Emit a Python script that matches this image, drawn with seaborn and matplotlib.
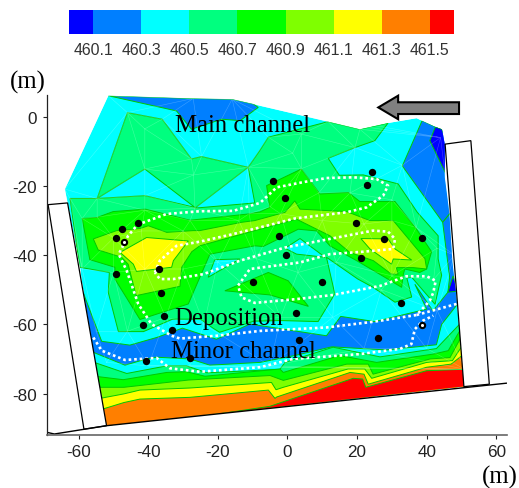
import numpy as np
import seaborn as sns
import matplotlib.pyplot as plt
from matplotlib.colors import ListedColormap, BoundaryNorm
from matplotlib.patches import Polygon
from matplotlib.tri import Triangulation

# elevation classes
levels = [460.0, 460.1, 460.3, 460.5, 460.7, 460.9, 461.1, 461.3, 461.5, 461.6]
level_labels = ['460.1', '460.3', '460.5', '460.7', '460.9', '461.1', '461.3', '461.5']
colors = ['#0000ff', '#007fff', '#00ffff', '#00ff7f', '#00ff00', '#7fff00', '#ffff00', '#ff7f00', '#ff0000']
blue, azure, cyan, spring, green, chart, yellow, orange, red = colors

domain = [(-51.5,6.1),(-27.1,5.3),(-15.9,5.1),(-9.8,3.7),(-7.9,3.2),(11.7,-1.4),(20.8,-3.6),(28.9,-1.8),
          (37.1,-0.4),(39,-1.3),(42.5,-2.9),(44.4,-3.6),(45.2,-7.9),(45.2,-17.5),(46.5,-27.6),(47.4,-42),
          (48.6,-52.7),(51,-77.9),(-52,-89.3),(-55.3,-71),(-59.2,-46.9),(-59.6,-43.5),(-64,-20.9)]

# below 460.3
azure_top = [(-51.5,6.1),(-27.1,5.3),(-15.9,5.1),(-9.8,3.7),(-8.4,2.7),(-13.6,-1.1),(-18.9,-0.7),(-27.6,-3.6),(-31.9,1.7)]
azure_right = [(38.7,-1.1),(42.5,-2.9),(44.4,-3.6),(46,-7.9),(46,-17.5),(47,-27.6),(44.6,-30.5),(33,-14.2)]
azure_strip = [(44.6,-30.5),(47,-27.6),(48.5,-46),(46.1,-50.7),(46.6,-46.4)]
azure_channel = [(-60,-47.4),(-53.4,-64.9),(-45.3,-66),(-37.6,-63.8),(-30.2,-61.1),(-20.4,-64.3),(-10.8,-59.9),
                 (11.2,-63.3),(15.3,-57.7),(25.1,-59.2),(40,-55.6),(36.6,-48.4),(41.8,-56.1),(46.1,-50.7),
                 (49,-46),(50,-52.7),(44.3,-60),(42.8,-65.9),(28.5,-67.4),(12.7,-66.5),(2.6,-68.9),(-7.9,-71),
                 (-22.3,-71.8),(-28,-70),(-37.6,-69.5),(-40.5,-70),(-46.7,-71.8),(-57,-67.6)]
blue_right = [(42.5,-2.9),(44.4,-3.6),(46,-7.9),(46,-17.5),(40.9,-6.9)]
blue_spot = [(47.6,-46),(49,-50.4),(46.1,-50.7)]

# 460.5 line
spring_main = [(-46,1.2),(-36,-0.7),(-27.6,-12.2),(-24.7,-11.5),(-11.3,-14.6),(-8,-9.8),(-5.5,-5.9),(11.7,-1.4),
               (20.8,-3.6),(28.9,-1.8),(25.1,-6.9),(19.4,-8.9),(11.7,-12),(14.9,-16.9),(21.8,-16.8),(31.8,-19.4),
               (37.3,-27.6),(43.3,-34.4),(43.3,-41.1),(44.3,-45.8),(42.4,-54.2),(35.7,-46.4),(34.3,-46.6),
               (35.7,-52.1),(30.9,-53.6),(24.6,-49.3),(20.2,-46.9),(11.2,-40.6),(13.6,-51.2),(8.8,-59.2),
               (-2.2,-58.9),(-9.7,-59.1),(-19.5,-62.3),(-21.4,-61.1),(-25,-58.5),(-33,-58.5),(-41.4,-62.1),
               (-48.6,-62.1),(-51.5,-50.8),(-51.2,-45),(-59.7,-43.5),(-62.5,-23.6),(-54.7,-23.6)]
cyan_holes = [[(-54.7,-23.6),(-41,-15.1),(-26.6,-26.2),(-41,-22.8)],
              [(-26.6,-26.4),(-11.3,-14.6),(-9.4,-24.9)],
              [(-22.8,-46.4),(-20.9,-41.3),(-13.7,-41.1)],
              [(-0.7,-38),(3.6,-35.2),(10.8,-40.6),(2.6,-39.7)]]

# 460.7 line
green_main = [(-59,-29.4),(-54.7,-29.1),(-50.1,-27.4),(-40.8,-26.7),(-28,-29.9),(-11.3,-28.1),(-7.9,-27.5),(-5.1,-26.2),
              (-6,-19.9),(4,-15.1),(9.3,-22.3),(17.5,-21.9),(20.8,-24.5),(30.9,-24.5),(37.1,-32.5),(41.4,-39),
              (40,-44),(38,-45),(33.7,-44),(33.3,-45.5),(32.8,-49.3),(28,-46.4),(19.9,-41.6),(12.2,-37.3),
              (8.4,-33),(3.1,-32.5),(-7,-37.5),(-9.4,-37.3),(-22.3,-39.7),(-28.5,-54.1),(-42.4,-58.6),
              (-49.6,-46.9),(-49.6,-43.5),(-56.8,-41.3)]
green_lobe = [(-18,-50.3),(-5.5,-45),(0.2,-47.4),(6,-54.8),(-5,-51.5)]

# 460.9 line
chart_main = [(-55.8,-35.3),(-49.1,-32.9),(-42.4,-32.3),(-40,-31.5),(-34.7,-33.4),(-27.1,-32.9),(-25.2,-32.9),(-13.2,-30.5),
              (-9.4,-30),(-0.7,-27.6),(2.1,-24.3),(3.6,-26.7),(17,-27.4),(23.7,-30),(30.4,-30),(39.5,-41),(40,-44),
              (36.1,-43.6),(31.3,-43.6),(31.8,-45.5),(29.9,-45.5),(24.7,-41.6),(17.9,-39.2),(12.2,-34.4),(2.6,-29.6),
              (-9.4,-32.9),(-25.2,-37.3),(-27.5,-39),(-30.4,-43.5),(-30.9,-49),(-43.5,-51.7),(-45.8,-42.6),
              (-47.7,-40.6),(-54.4,-38.5)]

# 461.1 line
yellow_left = [(-48.1,-39.2),(-40.5,-34.9),(-28.5,-35.9),(-32.8,-41.6),(-33.3,-43.5),(-43.4,-44.7),(-44.3,-42.6)]
yellow_right = [(21.1,-35.2),(28.9,-35.3),(30.9,-38.2),(35.7,-41.4),(30.4,-41.1),(29.9,-42.6),(27.5,-40.9),(23.7,-38.2)]

# lines across the lower reach, closed along the bottom edge
bottom_close = [(53,-80),(-54,-91)]
spring_low = [(-57,-70.5),(-46.2,-74.2),(-34.7,-72),(-29,-72),(-23.2,-74),(-2.2,-73),(-0.7,-71),(13.1,-66.6),
              (26.6,-69.4),(42.8,-67),(50,-59.4)]
green_low = [(-57,-74.8),(-47.2,-76),(-34.7,-73.9),(-29,-73.7),(-23.7,-75),(-2.2,-72.9),(-1.2,-73.9),(15,-69),
             (25.6,-71),(41.9,-68.6),(46.2,-67.6),(50,-61)]
chart_low = [(-57,-78.2),(-47,-78.2),(-28.5,-76.1),(-5,-74.8),(-1.2,-76.2),(17,-71.5),(23.2,-71.5),(24.6,-74.4),
             (41,-70),(46.7,-69.6),(50,-63.5)]
yellow_low = [(-57,-82),(-47,-80.1),(-42.4,-79),(-28,-78.4),(-4.6,-76.8),(-3.3,-78.9),(-1.2,-78.2),(17.4,-72.9),
              (22.2,-72.9),(24.2,-75.6),(40,-71),(47.4,-70.5),(51,-65)]
orange_low = [(-57,-85),(-52.5,-84.3),(-47,-82.6),(-42.4,-81.6),(-28,-81.1),(-5.5,-79),(-3.6,-81.4),(-3.1,-81),(18,-73.9),
              (22,-74.4),(23.2,-77.3),(40,-72.4),(47,-71.5),(51.5,-68)]
red_low = [(-5.1,-83.7),(18.9,-75.6),(21.6,-75.8),(22.5,-78.2),(40,-73.4),(50.3,-73),(53,-72)]

# survey points
point_x = [-47.5,-43.1,-49.2,-47.1,-36.9,-49.4,-36.3,-35.6,-41.4,-33.1,-28,-40.8,-0.5,-2.3,-10,9.8,2.5,19.6,21.1,
           -0.7,-4.2,24.3,22.9,38.7,27.7,32.5,26.1,38.7,3.4]
point_y = [-32.4,-30.8,-35,-36.1,-43.9,-45.5,-50.8,-57.6,-60.1,-61.6,-69.8,-70.6,-40,-34.4,-47.8,-47.8,-56.8,-30.8,-40.8,
           -23.5,-18.6,-16,-19.6,-35,-35.2,-53.8,-64,-60.2,-64.5]
hollow_x = [-47.1, 38.7]
hollow_y = [-36.1, -60.2]

# dotted outlines
deposit_line = [(-38.1,-45),(-36.7,-41.6),(-31.9,-37.3),(-25.2,-36.1),(-15.6,-33.9),(-6,-31.5),(2.1,-29.4),(17,-27.6),
                (22.7,-26.2),(27.5,-22.8),(28.9,-19.9),(25.6,-18),(18.9,-17.5),(11.2,-17.7),(4.5,-18.9),(-3.1,-20.4),
                (-7.9,-24.9),(-15.6,-27.2),(-25.2,-27.3),(-34.8,-28.1),(-43.1,-31.2),(-45.8,-34.4),(-48.5,-39.7),
                (-46.2,-44.5),(-42.9,-54.1),(-39.1,-59.9),(-33.3,-63.3),(-30.9,-64.1),(-20.4,-63.3),(-7.9,-61.9),
                (11.2,-60.9),(25.1,-59.2),(37.1,-57.3),(40.9,-53.2),(41.9,-50.8),(42.6,-47.4),(40,-46.1),(34.2,-46.1),
                (26.6,-48.9),(13.1,-51.5),(2.6,-52.7),(-9.4,-53.8),(-13.2,-52.2),(-14.2,-48.8),(-10.8,-44),(3.6,-42.1),
                (12.2,-39.7),(21.8,-39),(30.4,-38.2),(30.9,-35.3),(28.9,-33.2),(24.6,-32.9),(12.2,-35.3),(-0.7,-37.8),
                (-13.7,-41.6),(-24.2,-45.5),(-32.8,-46.9),(-36.7,-46.9),(-38.1,-45)]
deposit_tail = [(37.1,-57.3),(48.6,-54.1)]
minor_line = [(-55.8,-63.8),(-53.4,-67.6),(-46.7,-70.3),(-37.6,-69.7),(-33.8,-72.7),(-25.2,-73.7),(-7.9,-72.4),(1.6,-70),
              (20.8,-68.6),(32.3,-67.1),(35.6,-65.7),(36.6,-61.4),(39,-58.9),(41.9,-57.5)]

# mesh nodes
mesh_x = [-51.5,-27.1,-15.9,-46,-36,-41,-27.6,-24.7,-27,-41,-54.7,-41,-26.6,-11.3,-5.5,4,11.7,20.8,19.4,1.5,-64,-62.5,
          -59,-54.7,-41,-28,-11,-5,4,9,18,30,37,33,44,-50,-42,-30,-14,-2,10,22,30,43,-59,-50,-41,-30,-20,-9,3,14,30,42,48,
          -55,-46,-35,-24,-2,13,27,43,-52,-40,-28,-5,22,40,51]
mesh_y = [6.1,5.3,5.1,1.2,-0.7,-3.5,-12.2,-11.5,-16.8,-15.1,-23.6,-22.8,-26.4,-14.6,-5.9,-5,-1.4,-3.6,-8.9,-10.5,-20.9,-23.6,
          -29.4,-29,-27,-30,-28,-26,-15,-22,-22,-24,-32,-14,-6,-35,-33,-33,-30,-28,-30,-31,-30,-38,-44,-45,-44,-44,-42,-41,-45,-42,
          -46,-47,-40,-62,-62,-58,-60,-58,-58,-50,-56,-71,-72,-72,-72,-67,-67,-73]

box_left = [(-68.8,-25.4),(-63.2,-24.9),(-52,-89.3),(-58.5,-90.3)]
box_right = [(45.3,-7.9),(52.7,-6.9),(58,-77.3),(50.7,-78)]
base_line_x = [-69.2, -67, -52, 63]
base_line_y = [-91.2, -91.7, -89.3, -77]
flow_arrow = [(26.1,2.7),(31.8,6.1),(31.8,4.2),(49.3,4.2),(49.3,0.8),(31.8,0.8),(31.8,-0.7)]

sns.set_theme(style='ticks')
plt.rcParams['font.family'] = ['Liberation Sans', 'DejaVu Sans']
plt.rcParams['axes.unicode_minus'] = False

fig = plt.figure(figsize=(5.19, 4.89), dpi=100)
ax = fig.add_axes([46.7/519, 1-435.7/489, 460/519, 339.7/489])
cax = fig.add_axes([69/519, 1-35/489, 385/519, 24/489])

# legend strip
cmap = ListedColormap(colors)
norm = BoundaryNorm(levels, cmap.N)
cax.pcolormesh(levels, [0, 1], np.array([[(a+b)/2 for a, b in zip(levels[:-1], levels[1:])]]), cmap=cmap, norm=norm)
cax.set_yticks([])
cax.set_xticks(levels[1:-1])
cax.set_xticklabels(level_labels, fontsize=11.4, color='#333333')
cax.tick_params(axis='x', length=0, pad=6)
sns.despine(ax=cax, left=True, bottom=True)

clip = Polygon(domain, transform=ax.transData)


def band(points, color, edge='#00c800'):
    xs, ys = zip(*points)
    for p in ax.fill(xs, ys, facecolor=color, edgecolor=edge, linewidth=0.7):
        p.set_clip_path(clip)


band(domain, cyan, edge='none')
for pts in [azure_top, azure_right, azure_strip, azure_channel]:
    band(pts, azure)
for pts in [blue_right, blue_spot]:
    band(pts, blue)
band(spring_main, spring)
for pts in cyan_holes:
    band(pts, cyan)
band(spring_low + bottom_close, spring)
band(green_main, green)
band(green_lobe, green)
band(green_low + bottom_close, green)
band(chart_main, chart)
band(chart_low + bottom_close, chart)
band(yellow_left, yellow)
band(yellow_right, yellow)
band(yellow_low + bottom_close, yellow)
band(orange_low + bottom_close, orange)
band(red_low + bottom_close, red)

# thin triangles of the survey mesh
lines = ax.triplot(Triangulation(mesh_x, mesh_y), color='white', linewidth=0.4, alpha=0.25)
for ln in lines:
    ln.set_clip_path(clip)

for box in [box_left, box_right]:
    xs, ys = zip(*box)
    ax.fill(xs, ys, facecolor='white', edgecolor='black', linewidth=0.9)
ax.plot(base_line_x, base_line_y, color='black', linewidth=1)

for line in [deposit_line, deposit_tail, minor_line]:
    xs, ys = zip(*line)
    ax.plot(xs, ys, color='white', linewidth=1.9, linestyle=(0, (1, 1.1)), zorder=4)

sns.scatterplot(x=point_x, y=point_y, color='black', s=28, linewidth=0, ax=ax, zorder=5)
sns.scatterplot(x=hollow_x, y=hollow_y, color='white', s=5, linewidth=0, ax=ax, zorder=6)

xs, ys = zip(*flow_arrow)
ax.fill(xs, ys, facecolor='#808080', edgecolor='black', linewidth=1.5, clip_on=False)

serif = ['Liberation Serif', 'DejaVu Serif']
ax.text(-32.4, -4, 'Main channel', family=serif, fontsize=17.8, color='black', zorder=7)
ax.text(-32.6, -59.9, 'Deposition', family=serif, fontsize=17.8, color='black', zorder=7)
ax.text(-33.6, -69.4, 'Minor channel', family=serif, fontsize=17.8, color='black', zorder=7)
fig.text(10/519, 1-89/489, '(m)', family=serif, fontsize=17.8, color='black')
fig.text(482/519, 1-484/489, '(m)', family=serif, fontsize=17.8, color='black')

ax.set_xlim(-69.2, 63)
ax.set_ylim(-91.9, 6.3)
ax.set_xticks([-60, -40, -20, 0, 20, 40, 60])
ax.set_yticks([0, -20, -40, -60, -80])
ax.tick_params(labelsize=12.3, colors='#222222', length=3, width=0.8, pad=4)
ax.spines['left'].set_color('#222222')
ax.spines['bottom'].set_color('#666666')
ax.spines['left'].set_linewidth(0.9)
ax.spines['bottom'].set_linewidth(1.2)
sns.despine(ax=ax)

fig.savefig('out.png', dpi=100)
